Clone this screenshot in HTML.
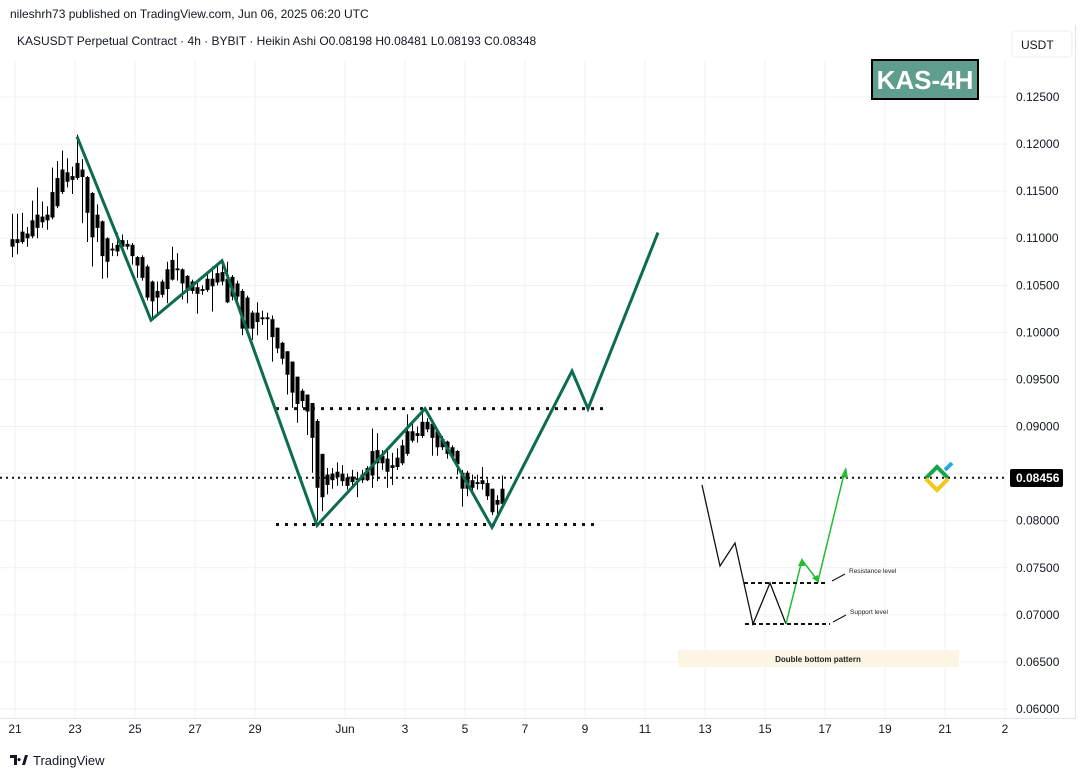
<!DOCTYPE html>
<html><head><meta charset="utf-8"><style>
body{margin:0;background:#fff;width:1086px;height:778px;overflow:hidden;font-family:"Liberation Sans",sans-serif}
svg{position:absolute;left:0;top:0}
</style></head><body>
<svg id="chart" width="1086" height="778">
<g id="grid"></g>
<g id="candles"></g>
<g id="levels"></g>
<g id="zigzag"></g>
<g id="axes"></g>
<text x="10" y="18" font-size="12" fill="#131722">nileshrh73 published on TradingView.com, Jun 06, 2025 06:20 UTC</text>
<text x="17" y="45" font-size="12" fill="#131722">KASUSDT Perpetual Contract · 4h · BYBIT · Heikin Ashi  O0.08198  H0.08481  L0.08193  C0.08348</text>
<rect x="1012" y="31" width="60" height="26" rx="4" fill="#fff" stroke="#eceef2"/>
<text x="1021" y="49" font-size="12" fill="#131722">USDT</text>
<rect x="872" y="60" width="106" height="39" fill="#5f9e8e" stroke="#000" stroke-width="2"/>
<text x="925" y="89" font-size="26" font-weight="bold" fill="#fff" text-anchor="middle">KAS-4H</text>
<g>
<rect x="678" y="650" width="281" height="17" fill="#fdf5e4"/>
<text x="818" y="662" font-size="8" font-weight="bold" text-anchor="middle" fill="#222">Double bottom pattern</text>
<polyline points="702,485 720,566 735,543 753,624 770,583 786,624" fill="none" stroke="#111" stroke-width="1.3"/>
<polyline points="786,624 802,560 818,581 845,470" fill="none" stroke="#22bb33" stroke-width="1.5"/>
<polygon points="802,558 798,566 805,566" fill="#22bb33"/>
<polygon points="819,583 812,578 818,575" fill="#22bb33"/>
<polygon points="846,467 841,477 848,478" fill="#22bb33"/>
<line x1="744" y1="583" x2="828" y2="583" stroke="#111" stroke-width="2" stroke-dasharray="4,3"/>
<line x1="745" y1="624" x2="830" y2="624" stroke="#111" stroke-width="2" stroke-dasharray="4,3"/>
<line x1="832" y1="581" x2="845" y2="574" stroke="#111" stroke-width="1"/>
<line x1="833" y1="622" x2="846" y2="615" stroke="#111" stroke-width="1"/>
<text x="849" y="573" font-size="6.5" fill="#222">Resistance level</text>
<text x="850" y="614" font-size="6.5" fill="#222">Support level</text>
</g>
<g>
<polyline points="926,478 937,467 948,478" fill="none" stroke="#1aa34a" stroke-width="4"/>
<polyline points="926,479 937,490 948,479" fill="none" stroke="#f5c518" stroke-width="4"/>
<line x1="945" y1="470" x2="952" y2="463" stroke="#29a8e0" stroke-width="4"/>
</g>
<rect x="1010" y="469" width="53" height="18" rx="2" fill="#000"/>
<text x="1016" y="482" font-size="12" font-weight="bold" fill="#fff">0.08456</text>
<g>
<path d="M10 755h7v10h-3v-7h-4zM19 758a1.6 1.6 0 1 0 0.1 0zM22 765l3-10h3l-3 10z" fill="#131722"/>
<text x="33" y="765" font-size="13" fill="#131722">TradingView</text>
</g>
</svg>
<script>
const priceTicks=[0.125,0.12,0.115,0.11,0.105,0.1,0.095,0.09,0.085,0.08,0.075,0.07,0.065,0.06];
const dateLabels=["21","23","25","27","29","Jun","3","5","7","9","11","13","15","17","19","21","2"];
const dateTickDays=[0,2,4,6,8,11,13,15,17,19,21,23,25,27,29,31,33];
const candleTop=[.1099,.1099,.1107,.1105,.1119,.1125,.1123,.1125,.1149,.1164,.1173,.1170,.1166,.1180,.1173,.1165,.1148,.1125,.1118,.1100,.1089,.1093,.1098,.1094,.1093,.1080,.1080,.1070,.1054,.1044,.1054,.1067,.1077,.1068,.1067,.1060,.1054,.1048,.1046,.1057,.1057,.1063,.1064,.1057,.1059,.1052,.1044,.1037,.1021,.1021,.1016,.1016,.1014,.1005,.0989,.0980,.0969,.0953,.0938,.0934,.0925,.0906,.0871,.0849,.0850,.0852,.0850,.0846,.0847,.0845,.0849,.0856,.0874,.0875,.0869,.0866,.0859,.0867,.0880,.0895,.0895,.0893,.0905,.0905,.0903,.0895,.0887,.0884,.0878,.0874,.0851,.0851,.0843,.0841,.0843,.0840,.0834,.0822,.0834];
const candleBottom=[.1091,.1095,.1096,.1100,.1102,.1111,.1117,.1119,.1122,.1134,.1149,.1160,.1162,.1164,.1165,.1127,.1101,.1111,.1081,.1075,.1087,.1086,.1091,.1091,.1081,.1071,.1058,.1037,.1033,.1037,.1040,.1046,.1056,.1066,.1052,.1044,.1044,.1041,.1044,.1045,.1049,.1053,.1054,.1032,.1038,.1038,.1004,.1004,.1004,.1011,.1014,.1014,.0995,.0983,.0972,.0955,.0936,.0924,.0927,.0916,.0888,.0835,.0825,.0838,.0843,.0846,.0842,.0837,.0841,.0843,.0843,.0843,.0848,.0861,.0861,.0852,.0856,.0857,.0861,.0871,.0885,.0890,.0890,.0897,.0888,.0878,.0878,.0871,.0868,.0860,.0834,.0834,.0835,.0839,.0839,.0826,.0809,.0817,.0818];
const candleHigh=[.1126,.1126,.1127,.1112,.1140,.1154,.1139,.1134,.1175,.1182,.1193,.1185,.1176,.1210,.1184,.1166,.1149,.1136,.1119,.1101,.1095,.1106,.1104,.1098,.1095,.1081,.1082,.1072,.1055,.1054,.1056,.1075,.1091,.1084,.1068,.1061,.1056,.1054,.1050,.1064,.1070,.1071,.1078,.1075,.1061,.1055,.1046,.1039,.1023,.1032,.1023,.1021,.1018,.1005,.0990,.0980,.0969,.0953,.0940,.0934,.0925,.0908,.0871,.0856,.0856,.0862,.0859,.0850,.0854,.0852,.0854,.0858,.0898,.0893,.0875,.0875,.0872,.0877,.0886,.0913,.0905,.0900,.0918,.0909,.0905,.0897,.0890,.0885,.0880,.0875,.0854,.0853,.0849,.0849,.0857,.0844,.0834,.0827,.0848];
const candleLow=[.1080,.1083,.1094,.1091,.1100,.1100,.1111,.1109,.1120,.1132,.1147,.1154,.1147,.1162,.1116,.1096,.1070,.1096,.1057,.1058,.1081,.1081,.1089,.1088,.1072,.1058,.1055,.1034,.1014,.1020,.1037,.1031,.1055,.1055,.1035,.1031,.1041,.1020,.1040,.1043,.1022,.1050,.1050,.1031,.1034,.1029,.0997,.0999,.0992,.0997,.1008,.0992,.0969,.0978,.0966,.0934,.0920,.0904,.0920,.0891,.0851,.0800,.0810,.0828,.0834,.0837,.0837,.0833,.0835,.0825,.0840,.0842,.0835,.0842,.0854,.0835,.0838,.0854,.0859,.0869,.0883,.0883,.0888,.0894,.0869,.0869,.0875,.0866,.0864,.0849,.0815,.0826,.0827,.0833,.0833,.0822,.0806,.0804,.0816];
const zigDays=[2.067,4.533,6.9,10.067,13.667,15.9,18.567,19.1,21.433];
const zigPrices=[.1208,.1013,.1076,.0795,.0919,.0793,.0959,.0919,.1106];
const resistance=0.0919, support=0.0796, lastPrice=0.08456;
const NS="http://www.w3.org/2000/svg";
const X=d=>15+30*d;
const Y=p=>97+(0.125-p)/0.005*47.08;
function mk(tag,attrs,parent){const e=document.createElementNS(NS,tag);for(const k in attrs)e.setAttribute(k,attrs[k]);document.getElementById(parent).appendChild(e);return e;}
priceTicks.forEach(p=>{const l=mk('line',{x1:0,x2:1008,y1:Y(p),y2:Y(p),stroke:'#f0f1f3','stroke-width':1},'grid');


const t=mk('text',{x:1016,y:Y(p)+4,'font-size':12,fill:'#131722'},'axes');t.textContent=p.toFixed(5);

});
dateTickDays.forEach((d,i)=>{const l=mk('line',{x1:X(d),x2:X(d),y1:60,y2:718,stroke:'#f0f1f3','stroke-width':1},'grid');


const t=mk('text',{x:X(d),y:733,'font-size':12,fill:'#131722','text-anchor':'middle'},'axes');t.textContent=dateLabels[i];

});
mk('line',{x1:0,x2:1076,y1:718.5,y2:718.5,stroke:'#e0e3eb'},'axes');
mk('line',{x1:1075.5,x2:1075.5,y1:25,y2:718,stroke:'#e0e3eb'},'axes');
candleTop.forEach((v,i)=>{const d=(i*5-3)/30;const x=X(d)+0.5;
const w=mk('line',{x1:x,x2:x,y1:Y(candleHigh[i]),y2:Y(candleLow[i]),stroke:'#000','stroke-width':1},'candles');


const top=Y(v),bot=Y(candleBottom[i]);
const b=mk('rect',{x:x-2,y:top,width:4,height:Math.max(1.5,bot-top),fill:'#000'},'candles');

});
const r=mk('line',{x1:276,x2:604,y1:Y(resistance),y2:Y(resistance),stroke:'#111','stroke-width':3,'stroke-dasharray':'3,6'},'levels');


const s=mk('line',{x1:276,x2:596,y1:Y(support),y2:Y(support),stroke:'#111','stroke-width':3,'stroke-dasharray':'3,6'},'levels');


const lp=mk('line',{x1:0,x2:1008,y1:Y(lastPrice),y2:Y(lastPrice),stroke:'#111','stroke-width':2,'stroke-dasharray':'2,4'},'levels');


const pts=zigDays.map((d,i)=>X(d)+','+Y(zigPrices[i])).join(' ');
const z=mk('polyline',{points:pts,fill:'none',stroke:'#0d6b52','stroke-width':3,'stroke-linejoin':'miter'},'zigzag');


</script>
</body></html>
